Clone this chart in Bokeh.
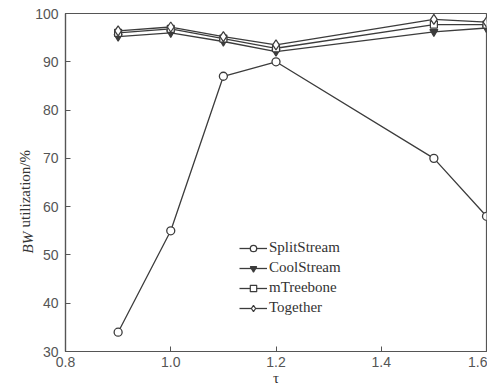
import math
from bokeh.plotting import figure
from bokeh.models import FixedTicker, Legend, LegendItem, Label, NumeralTickFormatter
from bokeh.embed import file_html
from bokeh.resources import INLINE

tau = [0.9, 1.0, 1.1, 1.2, 1.5, 1.6]
splitstream = [34, 55, 87, 90, 70, 58]
coolstream = [95.2, 96.0, 94.2, 92.1, 96.2, 97.0]
mtreebone = [96.0, 96.8, 94.8, 92.8, 97.7, 97.7]
together = [96.4, 97.2, 95.2, 93.5, 98.8, 98.2]

x_ticks = [0.8, 1.0, 1.2, 1.4, 1.6]
y_ticks = [30, 40, 50, 60, 70, 80, 90, 100]

p = figure(width=487, height=388, x_range=(0.8, 1.6), y_range=(30, 100),
           output_backend="svg", toolbar_location=None,
           min_border_left=64, min_border_right=1, min_border_top=13, min_border_bottom=37)

p.grid.visible = False
p.outline_line_color = "#555555"
p.outline_line_width = 1.2

for ax in (p.xaxis[0], p.yaxis[0]):
    ax.axis_line_color = "#555555"
    ax.axis_line_width = 1.2
    ax.major_tick_in = 5
    ax.major_tick_out = 0
    ax.major_tick_line_color = "#555555"
    ax.minor_tick_line_color = None
    ax.major_label_text_font = "Liberation Sans"
    ax.major_label_text_font_size = "14px"
    ax.major_label_text_color = "#555555"

p.xaxis.major_label_standoff = 5
p.yaxis.major_label_standoff = 7

p.xaxis.ticker = FixedTicker(ticks=x_ticks)
p.xaxis.formatter = NumeralTickFormatter(format="0.0")
p.yaxis.ticker = FixedTicker(ticks=y_ticks)

p.xaxis.axis_label = "τ"
p.xaxis.axis_label_text_font = "Liberation Serif"
p.xaxis.axis_label_text_font_style = "normal"
p.xaxis.axis_label_text_font_size = "15px"
p.xaxis.axis_label_text_color = "#333333"
p.xaxis.axis_label_standoff = 0

p.yaxis.axis_label = None

label_style = dict(x_units="screen", y_units="screen", angle=math.pi / 2,
                   text_font="Liberation Serif", text_font_size="15px",
                   text_color="#333333", text_baseline="alphabetic", text_align="left")
p.add_layout(Label(x=11, y=98, text="BW", text_font_style="italic", **label_style), "left")
p.add_layout(Label(x=24, y=124, text="utilization/%", **label_style), "left")

lc = "#3c3c3c"
lw = 1.3

r1 = p.line(tau, splitstream, line_color=lc, line_width=lw)
m1 = p.scatter(tau, splitstream, marker="circle", size=8, line_color=lc, fill_color="white", line_width=1.3)
r2 = p.line(tau, coolstream, line_color=lc, line_width=lw)
m2 = p.scatter(tau, coolstream, marker="inverted_triangle", size=8, line_color=lc, fill_color=lc, line_width=1.2)
r3 = p.line(tau, mtreebone, line_color=lc, line_width=lw)
m3 = p.scatter(tau, mtreebone, marker="square", size=7, line_color=lc, fill_color="white", line_width=1.2)
r4 = p.line(tau, together, line_color=lc, line_width=lw)
m4 = p.scatter(tau, together, marker="diamond", size=10, line_color=lc, fill_color="white", line_width=1.2)

legend = Legend(items=[
    LegendItem(label="SplitStream", renderers=[r1, m1]),
    LegendItem(label="CoolStream", renderers=[r2, m2]),
    LegendItem(label="mTreebone", renderers=[r3, m3]),
    LegendItem(label="Together", renderers=[r4, m4]),
], location=(174, 35))
legend.border_line_color = None
legend.background_fill_alpha = 0
legend.label_text_font = "Liberation Serif"
legend.label_text_font_size = "15px"
legend.label_text_color = "#333333"
legend.glyph_width = 28
legend.glyph_height = 16
legend.label_standoff = 2
legend.spacing = 3
legend.padding = 0
legend.margin = 0
p.add_layout(legend, "center")

open("out.html", "w").write(file_html(p, INLINE))
